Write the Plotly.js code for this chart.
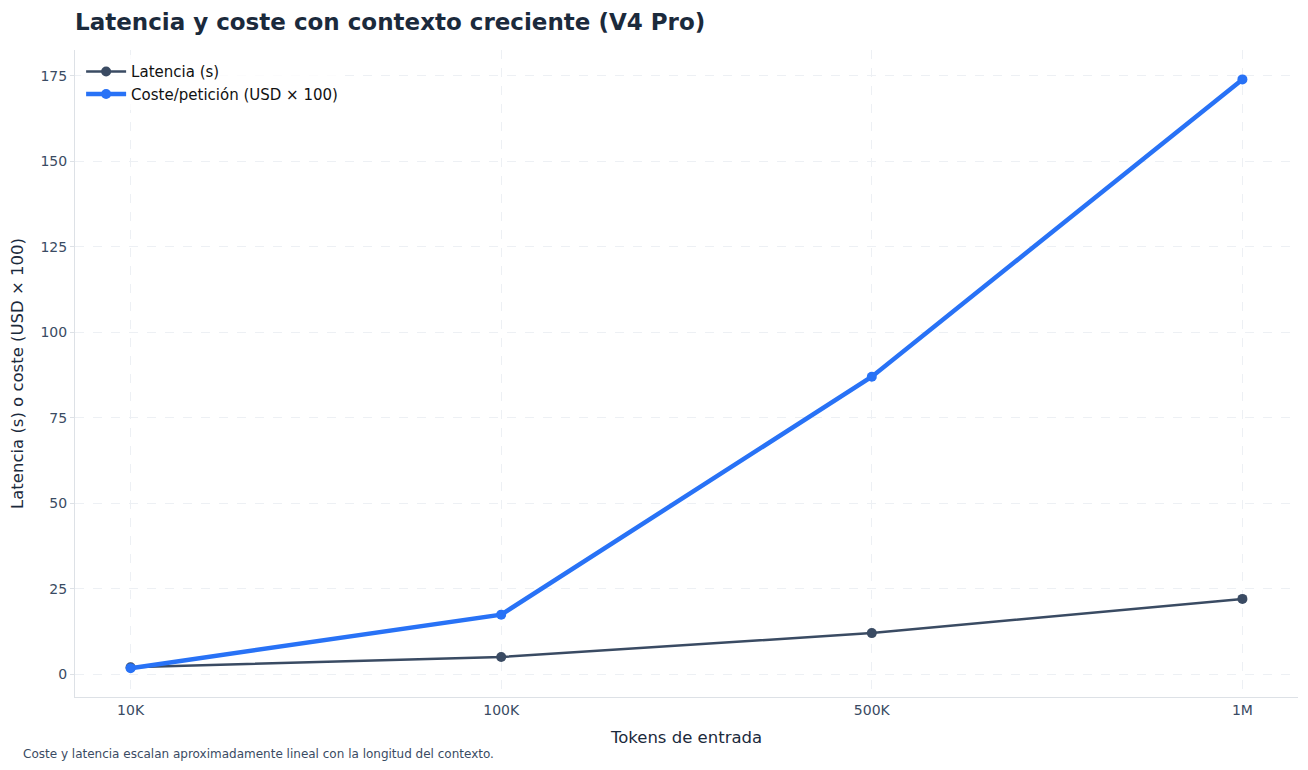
<!DOCTYPE html>
<html>
<head>
<meta charset="utf-8">
<script src="https://cdn.plot.ly/plotly-3.0.1.min.js"></script>
<style>html,body{margin:0;padding:0;background:#fff;}#chart{width:1308px;height:770px;}</style>
</head>
<body>
<div id="chart"></div>
<script>
const tokens = ["10K", "100K", "500K", "1M"];
const latencia = [2.0, 5.0, 12.0, 22.0];
const coste = [1.74, 17.4, 87.0, 174.0];

const FONT = "DejaVu Sans, sans-serif";
const traces = [
  {x: tokens, y: latencia, name: "Latencia (s)", type: "scatter", mode: "lines+markers",
   line: {color: "#3a4b63", width: 2.5}, marker: {color: "#3a4b63", size: 10}},
  {x: tokens, y: coste, name: "Coste/petición (USD × 100)", type: "scatter", mode: "lines+markers",
   line: {color: "#2872f6", width: 4.5}, marker: {color: "#2872f6", size: 10}}
];
const layout = {
  width: 1308, height: 770,
  margin: {l: 75, r: 10, t: 50, b: 73},
  paper_bgcolor: "#fff", plot_bgcolor: "#fff",
  font: {family: FONT, color: "#3a4b63", size: 14},
  title: {text: "<b>Latencia y coste con contexto creciente (V4 Pro)</b>", x: 75/1308, xanchor: "left", y: 0.971, yanchor: "middle",
          font: {family: FONT, size: 23, color: "#1b2a3c"}},
  xaxis: {type: "category", range: [-0.15, 3.15],
          title: {text: "Tokens de entrada", font: {size: 16.5, color: "#1b2a3c"}, standoff: 14},
          showgrid: true, gridcolor: "#edf0f4", griddash: "dash", gridwidth: 1,
          showline: true, linecolor: "#dde1e6", linewidth: 1, mirror: false,
          ticks: "", ticklen: 4, tickfont: {size: 14, color: "#3a4b63"}, zeroline: false},
  yaxis: {range: [-6.7, 182.6], tickvals: [0, 25, 50, 75, 100, 125, 150, 175],
          title: {text: "Latencia (s) o coste (USD × 100)", font: {size: 16.5, color: "#1b2a3c"}, standoff: 12},
          showgrid: true, gridcolor: "#edf0f4", griddash: "dash", gridwidth: 1,
          showline: true, linecolor: "#dde1e6", linewidth: 1,
          ticks: "outside", ticklen: 4, tickcolor: "#dde1e6", tickfont: {size: 14, color: "#3a4b63"}, zeroline: false},
  legend: {x: 0.005, y: 0.992, xanchor: "left", yanchor: "top", bgcolor: "rgba(255,255,255,0.8)",
           font: {size: 15, color: "#111"}, tracegroupgap: 2, itemwidth: 40},
  showlegend: true,
  annotations: [{text: "Coste y latencia escalan aproximadamente lineal con la longitud del contexto.",
                 xref: "paper", yref: "paper", x: -54/1223, y: -0.088, xanchor: "left", yanchor: "middle",
                 showarrow: false, font: {size: 12, color: "#3a4b63"}}]
};
Plotly.newPlot("chart", traces, layout, {displayModeBar: false});
</script>
</body>
</html>
